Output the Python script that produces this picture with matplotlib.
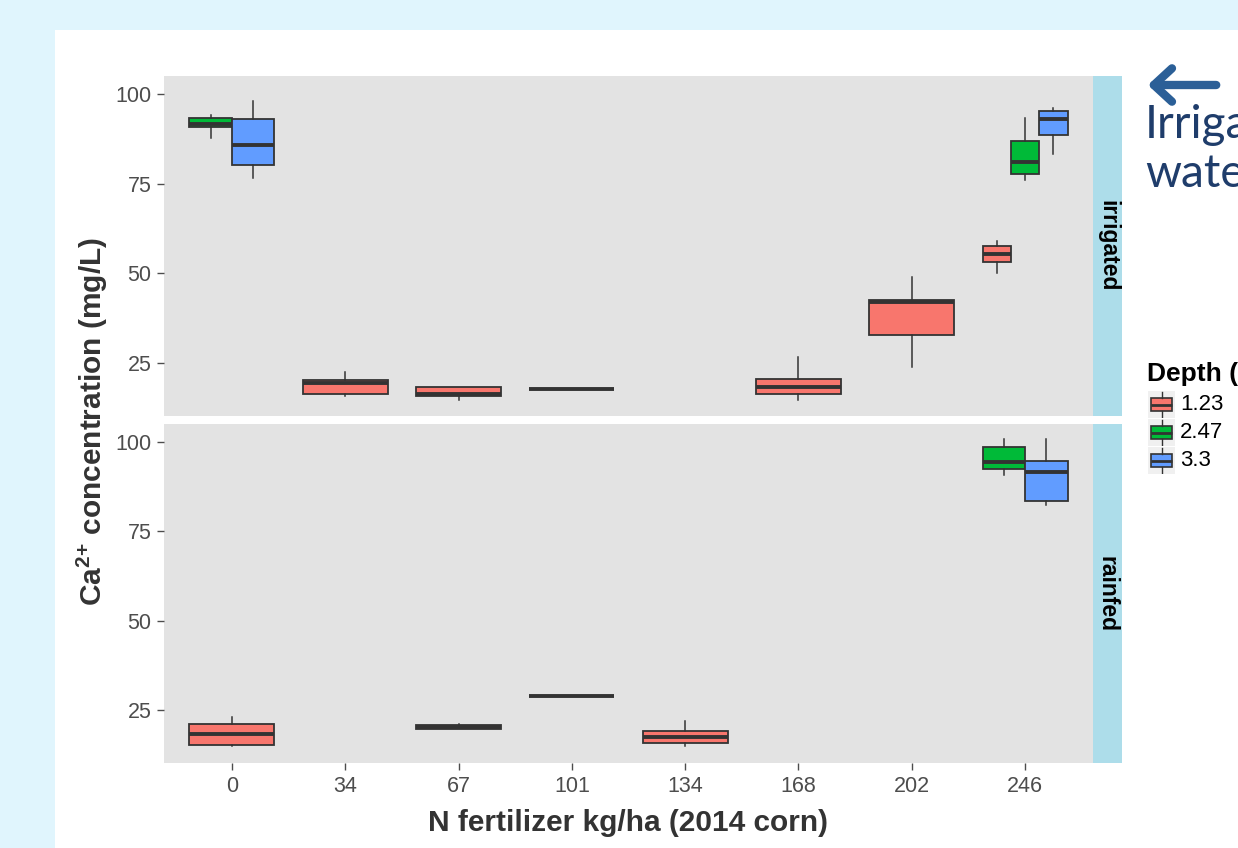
import matplotlib.pyplot as plt
from matplotlib.patches import Rectangle, FancyArrowPatch

# ---------------------------------------------------------------------
# DATA (box statistics)
# ---------------------------------------------------------------------
rates = ["0", "34", "67", "101", "134", "168", "202", "246"]
depths = ["1.23", "2.47", "3.3"]
depth_colors = ["#F8766D", "#00BA38", "#619CFF"]

# irrigated panel
irr_rate = ["0", "0", "34", "67", "101", "168", "202", "246", "246", "246"]
irr_depth = ["2.47", "3.3", "1.23", "1.23", "1.23", "1.23", "1.23", "1.23", "2.47", "3.3"]
irr_low = [87.7, 76.5, 15.9, 14.7, 17.7, 14.8, 23.8, 50.1, 76.0, 83.2]
irr_q1 = [90.7, 80.2, 16.4, 15.8, 17.7, 16.2, 32.7, 53.0, 77.8, 88.6]
irr_med = [91.5, 85.8, 19.5, 16.2, 17.7, 18.4, 41.9, 55.4, 81.1, 93.0]
irr_q3 = [93.2, 93.0, 20.1, 18.2, 17.7, 20.6, 42.6, 57.7, 87.0, 95.3]
irr_high = [94.1, 97.9, 22.6, 18.2, 17.7, 26.7, 48.9, 59.1, 93.2, 96.2]

# rainfed panel
rain_rate = ["0", "67", "101", "134", "246", "246"]
rain_depth = ["1.23", "1.23", "1.23", "1.23", "2.47", "3.3"]
rain_low = [15.0, 19.6, 28.8, 15.0, 90.8, 82.4]
rain_q1 = [15.1, 19.6, 28.8, 15.9, 92.5, 83.6]
rain_med = [18.4, 20.2, 28.8, 17.5, 94.5, 91.7]
rain_q3 = [21.0, 20.8, 28.8, 19.2, 98.5, 94.7]
rain_high = [23.2, 21.2, 28.8, 22.0, 100.8, 100.8]

# ---------------------------------------------------------------------
# STYLE
# ---------------------------------------------------------------------
W, H = 1238, 848
BG = "#E0F5FD"
PANEL = "#E3E3E3"
STRIP = "#ADDDEA"
LINE = "#333333"
TICK = "#4D4D4D"

plt.rcParams["font.family"] = ["Liberation Sans", "DejaVu Sans"]
plt.rcParams["mathtext.fontset"] = "custom"
plt.rcParams["mathtext.rm"] = "Liberation Sans:bold"
plt.rcParams["mathtext.default"] = "rm"


def fx(px):
    return px / W


def fy(py):
    return 1 - py / H


def draw_panel(ax, rate, depth, low, q1, med, q3, high):
    # ggplot-like dodging: split 0.75 among the depths present at each rate
    for i, r in enumerate(rate):
        present = [d for rr, d in zip(rate, depth) if rr == r]
        n = len(present)
        w = 0.75 / n
        k = present.index(depth[i])
        pos = rates.index(r) + (k - (n - 1) / 2) * w
        stats = [dict(whislo=low[i], q1=q1[i], med=med[i], q3=q3[i], whishi=high[i])]
        col = depth_colors[depths.index(depth[i])]
        ax.bxp(stats, positions=[pos], widths=[w], patch_artist=True,
               showfliers=False, showcaps=False,
               boxprops=dict(facecolor=col, edgecolor=LINE, linewidth=1.3),
               medianprops=dict(color=LINE, linewidth=2.8, solid_capstyle="butt"),
               whiskerprops=dict(color=LINE, linewidth=1.1))
    ax.set_facecolor(PANEL)
    ax.set_xlim(-0.6, len(rates) - 0.4)
    ax.set_ylim(10.2, 105)
    ax.set_yticks([25, 50, 75, 100])
    ax.set_yticklabels(["25", "50", "75", "100"])
    ax.set_xticks(range(len(rates)))
    for s in ax.spines.values():
        s.set_visible(False)
    ax.tick_params(colors=TICK, labelcolor=TICK, labelsize=15.5, length=5, width=1, pad=4)


fig = plt.figure(figsize=(W / 100, H / 100), dpi=100, facecolor=BG)
fig.patches.append(Rectangle((fx(55), 0), 1, fy(30), transform=fig.transFigure,
                             facecolor="white", edgecolor="none", zorder=-10))

left, right = 164, 1093
ax1 = fig.add_axes([fx(left), fy(416), fx(right - left), fy(76) - fy(416)])
ax2 = fig.add_axes([fx(left), fy(763), fx(right - left), fy(424) - fy(763)])

draw_panel(ax1, irr_rate, irr_depth, irr_low, irr_q1, irr_med, irr_q3, irr_high)
draw_panel(ax2, rain_rate, rain_depth, rain_low, rain_q1, rain_med, rain_q3, rain_high)
ax1.tick_params(axis="x", bottom=False, labelbottom=False)
ax2.set_xticklabels(rates)

# facet strips
for top, bot, lab in [(76, 416, "irrigated"), (424, 763, "rainfed")]:
    sax = fig.add_axes([fx(right), fy(bot), fx(1122 - right), fy(top) - fy(bot)])
    sax.set_facecolor(STRIP)
    sax.set_xticks([])
    sax.set_yticks([])
    for s in sax.spines.values():
        s.set_visible(False)
    sax.text(0.5, 0.5, lab, rotation=-90, ha="center", va="center",
             fontsize=16.5, fontweight="bold", color="black", transform=sax.transAxes)

# axis titles
fig.text(fx(628), fy(823), "N fertilizer kg/ha (2014 corn)", ha="center", va="center",
         fontsize=21.5, fontweight="bold", color="#333333")
fig.text(fx(92), fy(422), r"$\mathrm{Ca^{2{+}}}$ concentration (mg/L)", ha="center", va="center",
         rotation=90, fontsize=21.5, fontweight="bold", color="#333333")

# legend
fig.text(fx(1147), fy(374), "Depth (m)", ha="left", va="center",
         fontsize=19, fontweight="bold", color="black")
for j, (d, c) in enumerate(zip(depths, depth_colors)):
    top = 391 + j * 28
    kax = fig.add_axes([fx(1148), fy(top + 27), fx(27), fy(top) - fy(top + 27)])
    kax.bxp([dict(whislo=0.05, q1=0.25, med=0.5, q3=0.75, whishi=0.95)], positions=[0.5],
            widths=[0.8], patch_artist=True, showfliers=False, showcaps=False,
            boxprops=dict(facecolor=c, edgecolor=LINE, linewidth=1.2),
            medianprops=dict(color=LINE, linewidth=2.0),
            whiskerprops=dict(color=LINE, linewidth=1.0))
    kax.set_xlim(0, 1)
    kax.set_ylim(0, 1)
    kax.axis("off")
    kax.add_patch(Rectangle((0, 0), 1, 1, facecolor="#F0F0F0", edgecolor="none", zorder=0))
    fig.text(fx(1180), fy(top + 14), d, ha="left", va="center", fontsize=16, color="black")

# annotation
fig.patches.append(FancyArrowPatch((fx(1219), fy(85)), (fx(1145), fy(85)),
                                   transform=fig.transFigure, arrowstyle="->,head_length=13,head_width=12",
                                   color="#2B5F97", linewidth=6, mutation_scale=1,
                                   capstyle="round", joinstyle="round"))
fig.text(fx(1145), fy(138), "Irrigation", ha="left", va="baseline",
         fontsize=33, color="#1F3D6B", family=["Lato", "DejaVu Sans"])
fig.text(fx(1145), fy(187), "water", ha="left", va="baseline",
         fontsize=33, color="#1F3D6B", family=["Lato", "DejaVu Sans"])

fig.savefig("out.png", dpi=100, facecolor=BG)
